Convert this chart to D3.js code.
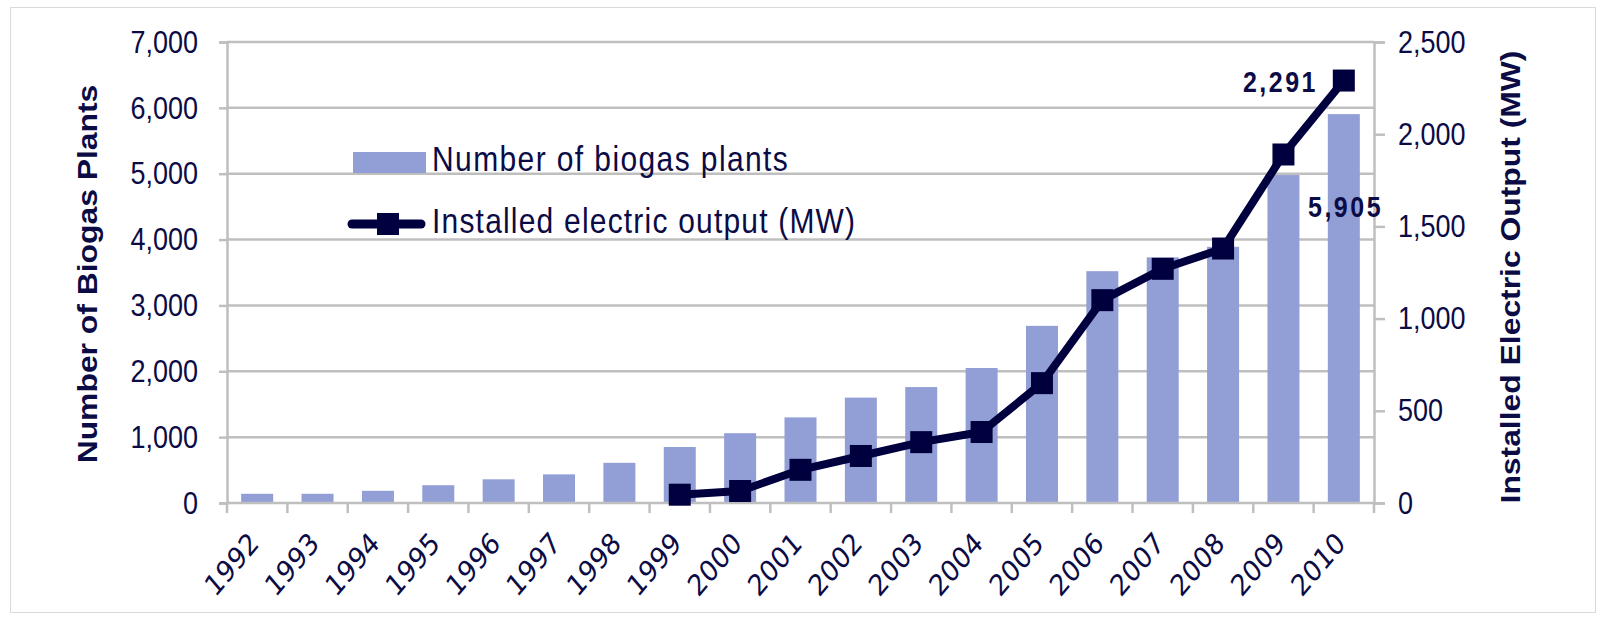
<!DOCTYPE html>
<html lang="en">
<head>
<meta charset="utf-8">
<title>Biogas plants</title>
<script src="https://cdn.jsdelivr.net/npm/d3@7"></script>
<style>
  body { margin: 0; background: #fff; }
</style>
</head>
<body>
<script>
// data
var years = ["1992","1993","1994","1995","1996","1997","1998","1999","2000","2001",
             "2002","2003","2004","2005","2006","2007","2008","2009","2010"];
var plants = [140, 140, 185, 270, 360, 435, 610, 850, 1060, 1300,
              1600, 1760, 2050, 2690, 3520, 3730, 3890, 4980, 5905];
var outputYears = ["1999","2000","2001","2002","2003","2004","2005","2006","2007","2008","2009","2010"];
var outputMW = [45, 65, 180, 255, 330, 385, 650, 1100, 1270, 1380, 1890, 2291];
var leftTicks = [0, 1000, 2000, 3000, 4000, 5000, 6000, 7000];
var rightTicks = [0, 500, 1000, 1500, 2000, 2500];

var width = 1602, height = 617;
var pLeft = 227, pRight = 1374, pTop = 42, pBottom = 503;
var gridColor = "#bfbfbf", navy = "#00003f", textColor = "#0b0b45", barColor = "#929fd7";
var stretch = "scale(1,1.18)";   // the original text is a bit taller than wide
var arial = "'Liberation Sans', Arial, sans-serif";

var svg = d3.select("body").append("svg")
  .attr("width", width).attr("height", height);

// outer frame
svg.append("rect").attr("x", 10.5).attr("y", 7.5)
  .attr("width", 1585).attr("height", 605)
  .attr("fill", "none").attr("stroke", "#dadada");

var x = d3.scaleBand().domain(years).range([pLeft, pRight]).paddingInner(0.47).paddingOuter(0.235);
var xb = d3.scaleBand().domain(years).range([pLeft, pRight]);
var yL = d3.scaleLinear().domain([0, 7000]).range([pBottom, pTop]);
var yR = d3.scaleLinear().domain([0, 2500]).range([pBottom, pTop]);

// gridlines
svg.append("g").selectAll("line").data(leftTicks.slice(1)).enter().append("line")
  .attr("x1", pLeft).attr("x2", pRight)
  .attr("y1", function(d){ return yL(d); }).attr("y2", function(d){ return yL(d); })
  .attr("stroke", gridColor).attr("stroke-width", 2.5);

// bars
svg.append("g").selectAll("rect").data(years).enter().append("rect")
  .attr("x", function(d){ return x(d); })
  .attr("width", x.bandwidth())
  .attr("y", function(d, i){ return yL(plants[i]); })
  .attr("height", function(d, i){ return pBottom - yL(plants[i]); })
  .attr("fill", barColor);

// left axis
var gL = svg.append("g").attr("transform", "translate(" + pLeft + ",0)")
  .call(d3.axisLeft(yL).tickValues(leftTicks).tickSize(8).tickPadding(21)
    .tickFormat(d3.format(",")));
gL.select(".domain").attr("stroke", gridColor).attr("stroke-width", 2.5);
gL.selectAll(".tick line").attr("stroke", gridColor).attr("stroke-width", 2.5);
gL.selectAll("text").attr("font-size", 27).attr("font-family", arial)
  .attr("fill", textColor).attr("transform", stretch);

// right axis
var gR = svg.append("g").attr("transform", "translate(" + pRight + ",0)")
  .call(d3.axisRight(yR).tickValues(rightTicks).tickSize(11).tickPadding(13)
    .tickFormat(d3.format(",")));
gR.select(".domain").attr("stroke", gridColor).attr("stroke-width", 2.5);
gR.selectAll(".tick line").attr("stroke", gridColor).attr("stroke-width", 2.5);
gR.selectAll("text").attr("font-size", 27).attr("font-family", arial)
  .attr("fill", textColor).attr("transform", stretch);

// bottom axis
svg.append("line").attr("x1", pLeft).attr("x2", pRight)
  .attr("y1", pBottom).attr("y2", pBottom)
  .attr("stroke", gridColor).attr("stroke-width", 2.5);
svg.append("g").selectAll("line").data(years.concat(["end"])).enter().append("line")
  .attr("x1", function(d, i){ return pLeft + i * xb.step(); })
  .attr("x2", function(d, i){ return pLeft + i * xb.step(); })
  .attr("y1", pBottom).attr("y2", pBottom + 10)
  .attr("stroke", gridColor).attr("stroke-width", 2.5);
svg.append("g").selectAll("text").data(years).enter().append("text")
  .attr("transform", function(d){
    return "translate(" + (xb(d) + xb.bandwidth() / 2 + 3) + "," + (pBottom + 42) + ") " +
      stretch + " rotate(-45)";
  })
  .attr("text-anchor", "end")
  .attr("font-family", "'DejaVu Sans', sans-serif")
  .attr("font-size", 25)
  .attr("fill", textColor)
  .text(function(d){ return d; });

// line
var line = d3.line()
  .x(function(d, i){ return xb(outputYears[i]) + xb.bandwidth() / 2; })
  .y(function(d){ return yR(d); });
svg.append("path").datum(outputMW).attr("d", line)
  .attr("fill", "none").attr("stroke", navy).attr("stroke-width", 8)
  .attr("stroke-linejoin", "round");
svg.append("g").selectAll("rect").data(outputMW).enter().append("rect")
  .attr("x", function(d, i){ return xb(outputYears[i]) + xb.bandwidth() / 2 - 11; })
  .attr("y", function(d){ return yR(d) - 11; })
  .attr("width", 22).attr("height", 22)
  .attr("fill", navy);

// value labels
svg.append("text").attr("transform", "translate(1318,92) " + stretch)
  .attr("text-anchor", "end").attr("font-size", 25).attr("font-weight", "bold")
  .attr("font-family", arial).attr("fill", textColor).attr("letter-spacing", 2.5)
  .text(d3.format(",")(outputMW[outputMW.length - 1]));
svg.append("text").attr("transform", "translate(1308,217) " + stretch)
  .attr("font-size", 25).attr("font-weight", "bold")
  .attr("font-family", arial).attr("fill", textColor).attr("letter-spacing", 2.5)
  .text(d3.format(",")(plants[plants.length - 1]));

// axis titles
svg.append("text")
  .attr("transform", "translate(97,274) " + stretch + " rotate(-90)")
  .attr("text-anchor", "middle").attr("font-size", 27).attr("font-weight", "bold")
  .attr("font-family", arial).attr("fill", textColor)
  .text("Number of Biogas Plants");
svg.append("text")
  .attr("transform", "translate(1520,277) " + stretch + " rotate(-90)")
  .attr("text-anchor", "middle").attr("font-size", 27).attr("font-weight", "bold")
  .attr("font-family", arial).attr("fill", textColor)
  .text("Installed Electric Output (MW)");

// legend
var lg = svg.append("g");
lg.append("rect").attr("x", 353).attr("y", 152).attr("width", 73).attr("height", 21)
  .attr("fill", barColor);
lg.append("text").attr("transform", "translate(432,171) " + stretch)
  .attr("font-size", 30).attr("font-family", arial).attr("fill", textColor)
  .attr("letter-spacing", 1.4)
  .text("Number of biogas plants");
lg.append("line").attr("x1", 352).attr("x2", 421).attr("y1", 224).attr("y2", 224)
  .attr("stroke", navy).attr("stroke-width", 9).attr("stroke-linecap", "round");
lg.append("rect").attr("x", 377).attr("y", 213).attr("width", 22).attr("height", 22)
  .attr("fill", navy);
lg.append("text").attr("transform", "translate(432,233) " + stretch)
  .attr("font-size", 30).attr("font-family", arial).attr("fill", textColor)
  .attr("letter-spacing", 1.2)
  .text("Installed electric output (MW)");
</script>
</body>
</html>
